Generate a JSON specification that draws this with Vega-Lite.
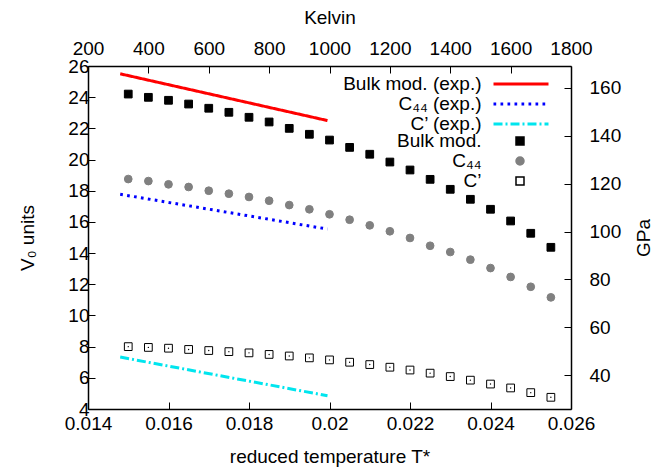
{
  "$schema": "https://vega.github.io/schema/vega-lite/v6.json",
  "width": 483,
  "height": 343,
  "autosize": "none",
  "padding": {"left": 88, "top": 66, "right": 87, "bottom": 60},
  "background": "white",
  "config": {
    "view": {"stroke": null},
    "font": "Liberation Sans",
    "axis": {
      "grid": false,
      "domainColor": "black",
      "domainWidth": 1.5,
      "tickColor": "black",
      "tickWidth": 1,
      "labelFont": "Liberation Sans",
      "labelFontSize": 19,
      "labelColor": "black",
      "titleFont": "Liberation Sans",
      "titleFontSize": 19,
      "titleFontWeight": "normal",
      "titleColor": "black",
      "labelFlush": false,
      "labelOverlap": false
    },
    "legend": {
      "labelFont": "Liberation Sans",
      "labelFontSize": 19,
      "labelColor": "black",
      "padding": 0,
      "rowPadding": 0,
      "labelAlign": "right"
    }
  },
  "datasets": {
    "exp": [
      {"T": 0.0148, "V": 25.5, "s": "Bulk mod. (exp.)"},
      {"T": 0.01995, "V": 22.5, "s": "Bulk mod. (exp.)"},
      {"T": 0.0148, "V": 17.77, "s": "C₄₄ (exp.)"},
      {"T": 0.01995, "V": 15.54, "s": "C₄₄ (exp.)"},
      {"T": 0.0148, "V": 7.33, "s": "C’ (exp.)"},
      {"T": 0.01995, "V": 4.85, "s": "C’ (exp.)"}
    ],
    "sim": [
      {"T": 0.015, "V": 24.2, "s": "Bulk mod."},
      {"T": 0.0155, "V": 23.99, "s": "Bulk mod."},
      {"T": 0.016, "V": 23.8, "s": "Bulk mod."},
      {"T": 0.0165, "V": 23.56, "s": "Bulk mod."},
      {"T": 0.017, "V": 23.29, "s": "Bulk mod."},
      {"T": 0.0175, "V": 23.03, "s": "Bulk mod."},
      {"T": 0.018, "V": 22.71, "s": "Bulk mod."},
      {"T": 0.0185, "V": 22.41, "s": "Bulk mod."},
      {"T": 0.019, "V": 22.0, "s": "Bulk mod."},
      {"T": 0.0195, "V": 21.62, "s": "Bulk mod."},
      {"T": 0.02, "V": 21.25, "s": "Bulk mod."},
      {"T": 0.0205, "V": 20.78, "s": "Bulk mod."},
      {"T": 0.021, "V": 20.34, "s": "Bulk mod."},
      {"T": 0.0215, "V": 19.84, "s": "Bulk mod."},
      {"T": 0.022, "V": 19.33, "s": "Bulk mod."},
      {"T": 0.0225, "V": 18.73, "s": "Bulk mod."},
      {"T": 0.023, "V": 18.09, "s": "Bulk mod."},
      {"T": 0.0235, "V": 17.45, "s": "Bulk mod."},
      {"T": 0.024, "V": 16.81, "s": "Bulk mod."},
      {"T": 0.0245, "V": 16.06, "s": "Bulk mod."},
      {"T": 0.025, "V": 15.27, "s": "Bulk mod."},
      {"T": 0.0255, "V": 14.37, "s": "Bulk mod."},
      {"T": 0.015, "V": 18.75, "s": "C₄₄"},
      {"T": 0.0155, "V": 18.62, "s": "C₄₄"},
      {"T": 0.016, "V": 18.41, "s": "C₄₄"},
      {"T": 0.0165, "V": 18.24, "s": "C₄₄"},
      {"T": 0.017, "V": 18.0, "s": "C₄₄"},
      {"T": 0.0175, "V": 17.81, "s": "C₄₄"},
      {"T": 0.018, "V": 17.6, "s": "C₄₄"},
      {"T": 0.0185, "V": 17.36, "s": "C₄₄"},
      {"T": 0.019, "V": 17.08, "s": "C₄₄"},
      {"T": 0.0195, "V": 16.81, "s": "C₄₄"},
      {"T": 0.02, "V": 16.49, "s": "C₄₄"},
      {"T": 0.0205, "V": 16.14, "s": "C₄₄"},
      {"T": 0.021, "V": 15.78, "s": "C₄₄"},
      {"T": 0.0215, "V": 15.4, "s": "C₄₄"},
      {"T": 0.022, "V": 14.97, "s": "C₄₄"},
      {"T": 0.0225, "V": 14.47, "s": "C₄₄"},
      {"T": 0.023, "V": 14.07, "s": "C₄₄"},
      {"T": 0.0235, "V": 13.58, "s": "C₄₄"},
      {"T": 0.024, "V": 13.04, "s": "C₄₄"},
      {"T": 0.0245, "V": 12.47, "s": "C₄₄"},
      {"T": 0.025, "V": 11.84, "s": "C₄₄"},
      {"T": 0.0255, "V": 11.16, "s": "C₄₄"},
      {"T": 0.015, "V": 8.0, "s": "C’"},
      {"T": 0.0155, "V": 7.95, "s": "C’"},
      {"T": 0.016, "V": 7.9, "s": "C’"},
      {"T": 0.0165, "V": 7.82, "s": "C’"},
      {"T": 0.017, "V": 7.75, "s": "C’"},
      {"T": 0.0175, "V": 7.68, "s": "C’"},
      {"T": 0.018, "V": 7.6, "s": "C’"},
      {"T": 0.0185, "V": 7.5, "s": "C’"},
      {"T": 0.019, "V": 7.4, "s": "C’"},
      {"T": 0.0195, "V": 7.28, "s": "C’"},
      {"T": 0.02, "V": 7.15, "s": "C’"},
      {"T": 0.0205, "V": 7.0, "s": "C’"},
      {"T": 0.021, "V": 6.85, "s": "C’"},
      {"T": 0.0215, "V": 6.68, "s": "C’"},
      {"T": 0.022, "V": 6.5, "s": "C’"},
      {"T": 0.0225, "V": 6.3, "s": "C’"},
      {"T": 0.023, "V": 6.08, "s": "C’"},
      {"T": 0.0235, "V": 5.85, "s": "C’"},
      {"T": 0.024, "V": 5.6, "s": "C’"},
      {"T": 0.0245, "V": 5.35, "s": "C’"},
      {"T": 0.025, "V": 5.05, "s": "C’"},
      {"T": 0.0255, "V": 4.75, "s": "C’"}
    ],
    "secondary": [
      {"K": 200, "GPa": 26},
      {"K": 1800, "GPa": 169}
    ]
  },
  "layer": [
    {
      "encoding": {
        "x": {"field": "T", "type": "quantitative",
          "scale": {"domain": [0.014, 0.026], "nice": false, "zero": false},
          "axis": {"orient": "bottom", "title": "reduced temperature T*",
            "values": [0.014, 0.016, 0.018, 0.02, 0.022, 0.024, 0.026],
            "format": ".3~f", "tickSize": -7, "labelPadding": 12, "titlePadding": 14}},
        "y": {"field": "V", "type": "quantitative",
          "scale": {"domain": [4, 26], "nice": false, "zero": false},
          "axis": {"orient": "left", "title": "V₀ units",
            "values": [4, 6, 8, 10, 12, 14, 16, 18, 20, 22, 24, 26],
            "tickSize": -7, "labelPadding": 6, "titlePadding": 30}}
      },
      "layer": [
        {
          "data": {"name": "exp"},
          "mark": {"type": "line", "clip": true, "strokeWidth": 3},
          "encoding": {
            "color": {"field": "s", "type": "nominal",
              "scale": {"domain": ["Bulk mod. (exp.)", "C₄₄ (exp.)", "C’ (exp.)"], "range": ["#ff0000", "#0000ff", "#00e5ee"]},
              "legend": {"title": null, "orient": "none", "legendX": 423.5, "legendY": 8.5,
                "symbolType": "M-5,0H5", "symbolSize": 121, "symbolStrokeWidth": 3, "labelOffset": -49}},
            "strokeDash": {"field": "s", "type": "nominal",
              "scale": {"domain": ["Bulk mod. (exp.)", "C₄₄ (exp.)", "C’ (exp.)"], "range": [[1, 0], [2.7, 4.3], [9, 3, 2, 3]]},
              "legend": {"title": null, "orient": "none", "legendX": 423.5, "legendY": 8.5,
                "symbolType": "M-5,0H5", "symbolSize": 121, "symbolStrokeWidth": 3, "labelOffset": -49}}
          }
        },
        {
          "data": {"name": "sim"},
          "mark": {"type": "point", "strokeWidth": 1, "opacity": 1, "size": 60},
          "encoding": {
            "shape": {"field": "s", "type": "nominal",
              "scale": {"domain": ["Bulk mod.", "C₄₄", "C’"], "range": ["square", "circle", "square"]},
              "legend": {"title": null, "orient": "none", "legendX": 422.5, "legendY": 65.5,
                "symbolSize": 64, "labelOffset": -48}},
            "fill": {"field": "s", "type": "nominal",
              "scale": {"domain": ["Bulk mod.", "C₄₄", "C’"], "range": ["#000000", "#808080", "#ffffff"]},
              "legend": {"title": null, "orient": "none", "legendX": 422.5, "legendY": 65.5,
                "symbolSize": 64, "labelOffset": -48}},
            "stroke": {"field": "s", "type": "nominal",
              "scale": {"domain": ["Bulk mod.", "C₄₄", "C’"], "range": ["#000000", "#808080", "#000000"]},
              "legend": {"title": null, "orient": "none", "legendX": 422.5, "legendY": 65.5,
                "symbolSize": 64, "labelOffset": -48}}
          }
        },
        {
          "data": {"name": "sim"},
          "transform": [{"filter": "datum.s === \"C’\""}],
          "mark": {"type": "point", "filled": true, "color": "black", "size": 2, "opacity": 1}
        }
      ]
    },
    {
      "data": {"name": "secondary"},
      "mark": {"type": "point", "opacity": 0},
      "encoding": {
        "x": {"field": "K", "type": "quantitative",
          "scale": {"domain": [200, 1800], "nice": false, "zero": false},
          "axis": {"orient": "top", "title": "Kelvin", "format": "d",
            "values": [200, 400, 600, 800, 1000, 1200, 1400, 1600, 1800],
            "tickSize": -7, "labelPadding": 15, "titlePadding": 12}},
        "y": {"field": "GPa", "type": "quantitative",
          "scale": {"domain": [26, 169], "nice": false, "zero": false},
          "axis": {"orient": "right", "title": "GPa", "titleAngle": 270,
            "values": [40, 60, 80, 100, 120, 140, 160],
            "tickSize": -7, "labelPadding": 25, "titlePadding": 33}}
      }
    }
  ],
  "resolve": {"scale": {"x": "independent", "y": "independent"}}
}
